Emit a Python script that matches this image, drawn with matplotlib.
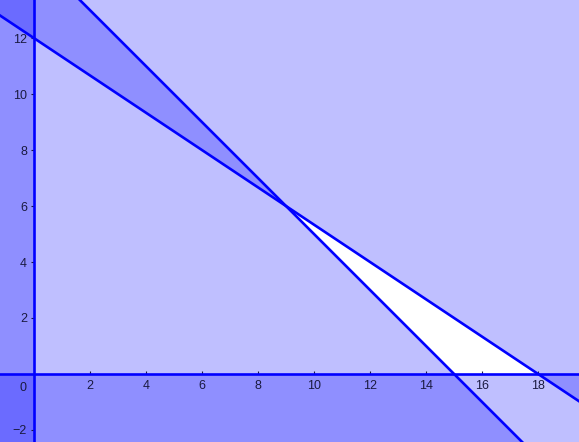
import matplotlib.pyplot as plt
import numpy as np

# constraint lines: a*x + b*y = c
line_a = (2, 3, 36)   # 2x + 3y <= 36  (shade above)
line_b = (1, 1, 15)   # x + y >= 15    (shade below)

x_range = (-1.21, 19.46)
y_range = (-2.43, 13.36)
x_ticks = [2, 4, 6, 8, 10, 12, 14, 16, 18]
y_ticks = [-2, 2, 4, 6, 8, 10, 12]

shade = (0, 0, 1, 0.25)
edge = '#0000ff'
lab_col = '#1a1a40'
big = 100

fig = plt.figure(figsize=(5.79, 4.42), dpi=100)
ax = fig.add_axes([0, 0, 1, 1])
ax.set_xlim(*x_range)
ax.set_ylim(*y_range)

xs = np.linspace(-big, big, 2)
ya = (line_a[2] - line_a[0] * xs) / line_a[1]
yb = (line_b[2] - line_b[0] * xs) / line_b[1]

ax.fill_between(xs, ya, big, color=shade, lw=0)
ax.fill_between(xs, -big, yb, color=shade, lw=0)
ax.axvspan(-big, 0, color=shade, lw=0)
ax.axhspan(-big, 0, color=shade, lw=0)

ax.plot(xs, ya, color=edge, lw=1.9, zorder=3)
ax.plot(xs, yb, color=edge, lw=1.9, zorder=3)

for side in ['top', 'right']:
    ax.spines[side].set_visible(False)
for side in ['left', 'bottom']:
    ax.spines[side].set_position('zero')
    ax.spines[side].set_color(edge)
    ax.spines[side].set_linewidth(1.9)
    ax.spines[side].set_zorder(3)

ax.set_xticks(x_ticks)
ax.set_yticks(y_ticks)
ax.tick_params(direction='in', length=2.5, width=0.8, color=lab_col,
               labelcolor=lab_col, labelsize=9, pad=4.5)
ax.tick_params(axis='y', direction='out', pad=2.5)
for t in ax.get_xticklabels() + ax.get_yticklabels():
    t.set_fontfamily('Liberation Sans')
ax.annotate('0', xy=(0, 0), xytext=(-5.5, -5.5), textcoords='offset points',
            ha='right', va='top', fontsize=9, color=lab_col,
            family='Liberation Sans')

fig.savefig('out.png', dpi=100)
